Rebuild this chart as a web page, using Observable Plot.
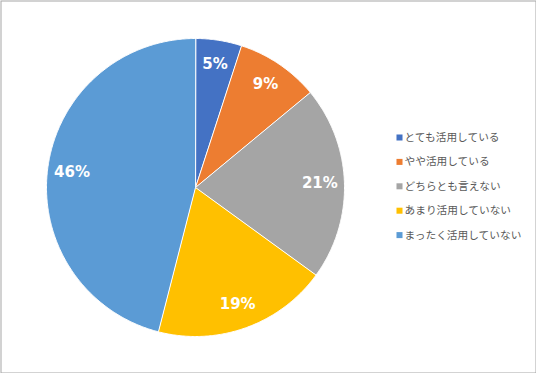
<!DOCTYPE html>
<html><head><meta charset="utf-8">
<script src="https://cdn.jsdelivr.net/npm/d3@7"></script>
<script src="https://cdn.jsdelivr.net/npm/@observablehq/plot@0.6"></script>
<style>body{margin:0;background:#fff}</style>
</head><body><div id="chart"></div>
<script>
const categories = ["とても活用している","やや活用している","どちらとも言えない","あまり活用していない","まったく活用していない"];
const values = [5, 9, 21, 19, 46];
const labels = ["5%","9%","21%","19%","46%"];
const colors = ["#4472C4","#ED7D31","#A5A5A5","#FFC000","#5B9BD5"];

// pie geometry computed from the values (angles clockwise from 12 o'clock)
const arcs = d3.pie().sort(null).value(d => d)(values);
const slicePts = [];
arcs.forEach((a, i) => {
  slicePts.push({cat: categories[i], x: 0, y: 0});
  const n = Math.max(2, Math.ceil((a.endAngle - a.startAngle) / (Math.PI / 360)));
  for (let k = 0; k <= n; k++) {
    const t = a.startAngle + (a.endAngle - a.startAngle) * k / n;
    slicePts.push({cat: categories[i], x: Math.sin(t), y: Math.cos(t)});
  }
});
const labelPts = arcs.map((a, i) => {
  const m = (a.startAngle + a.endAngle) / 2;
  return {label: labels[i], x: 0.835 * Math.sin(m), y: 0.835 * Math.cos(m)};
});
const legendPts = categories.map((c, i) => ({cat: c, row: i}));
const R = 149; // pixels per unit radius
const legY = d => (187 - 137) / R - d.row * 24.4 / R;

const chart = Plot.plot({
  width: 536, height: 373, margin: 0,
  x: {domain: [-195 / R, 341 / R], axis: null},
  y: {domain: [-186 / R, 187 / R], axis: null},
  color: {domain: categories, range: colors},
  style: {background: "#fff"},
  marks: [
    Plot.frame({stroke: "#a6a6a6", inset: 0.5}),
    Plot.line(slicePts, {x: "x", y: "y", z: "cat", fill: "cat", stroke: "white", strokeWidth: 1, curve: "linear-closed"}),
    Plot.text(labelPts, {x: "x", y: "y", text: "label", fill: "white", fontWeight: "bold", fontSize: 15, fontFamily: "DejaVu Sans"}),
    Plot.dot(legendPts, {x: 204 / R, y: legY, fill: "cat", symbol: "square", r: 3.4, stroke: null}),
    Plot.text(legendPts, {x: 209 / R, y: legY, text: "cat", textAnchor: "start", fill: "#595959", fontSize: 10.7, fontFamily: "Noto Sans CJK JP"})
  ]
});
document.getElementById("chart").append(chart);
</script>
</body></html>
